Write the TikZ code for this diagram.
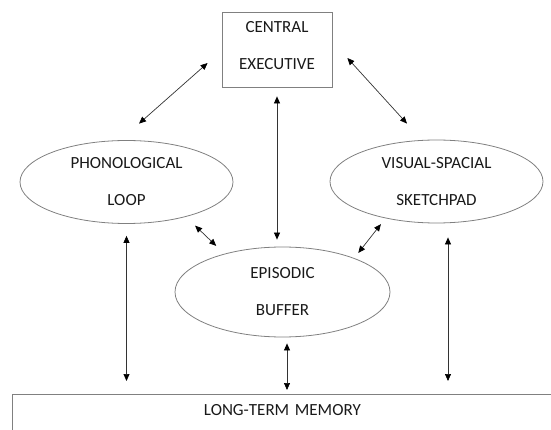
\documentclass[tikz,border=0pt]{standalone}
\usepackage{fontspec}
\setmainfont{Carlito}
\usetikzlibrary{arrows.meta,shapes.geometric}

\newcommand{\wmfont}{\fontsize{17}{37}\selectfont}

\begin{document}
\begin{tikzpicture}[
  x=1pt, y=-1pt,
  box/.style    = {draw=black!50, line width=0.8pt, inner sep=0pt,
                   minimum width=110pt, minimum height=75pt,
                   align=center, font=\wmfont, text=black!90},
  store/.style  = {ellipse, draw=black!50, line width=0.8pt, inner sep=0pt,
                   minimum width=213pt, minimum height=83pt,
                   align=center, font=\wmfont, text=black!90},
  ltmbox/.style = {draw=black!50, line width=0.8pt, anchor=north west,
                   inner xsep=0pt, inner ysep=10pt, text width=540pt,
                   text height=11pt, text depth=30pt,
                   align=center, font=\wmfont, text=black!90},
  link/.style   = {draw=black!80, line width=0.7pt,
                   {Triangle[length=7pt,width=6pt,black]}-{Triangle[length=7pt,width=6pt,black]}},
]
  \path[use as bounding box, clip] (0,0) rectangle (551,430);

  % components of working memory, positions in pixels of the sketch
  \node[box, text depth=9pt] (ce) at (277,49.5) {CENTRAL\\EXECUTIVE};
  \node[store] (pl) at (126.5,182) {PHONOLOGICAL\\LOOP};
  \node[store] (vs) at (436.5,181.5) {VISUAL-SPACIAL\\SKETCHPAD};
  \node[store, minimum width=215pt, minimum height=90pt] (eb) at (282.5,292) {EPISODIC\\BUFFER};
  \node[ltmbox] (ltm) at (12,394) {LONG-TERM MEMORY};

  % two-way links, none of them touching the shapes
  \draw[link] ([xshift=12.5pt,yshift=16.5pt]pl.north) -- ([xshift=-14pt,yshift=-13.5pt]ce.west);
  \draw[link] ([xshift=15pt,yshift=-8.5pt]ce.east) -- ([xshift=-29.5pt,yshift=16pt]vs.north);
  \draw[link, shorten <=9pt, shorten >=7pt] (ce.south) -- (ce.south |- eb.north);
  \draw[link] ([xshift=-7pt,yshift=-14pt]pl.south east) -- ([xshift=10pt,yshift=14pt]eb.north west);
  \draw[link] ([xshift=20pt,yshift=-13pt]vs.south west) -- ([xshift=-0.5pt,yshift=7pt]eb.north east);
  \draw[link, shorten <=12pt, shorten >=13pt] (pl.south) -- (pl.south |- ltm.north);
  \draw[link, shorten <=6pt, shorten >=4pt] ([xshift=4.5pt]eb.south) -- ([xshift=4.5pt]eb.south |- ltm.north);
  \draw[link, shorten <=14pt, shorten >=13pt] ([xshift=11.5pt]vs.south) -- ([xshift=11.5pt]vs.south |- ltm.north);
\end{tikzpicture}
\end{document}
